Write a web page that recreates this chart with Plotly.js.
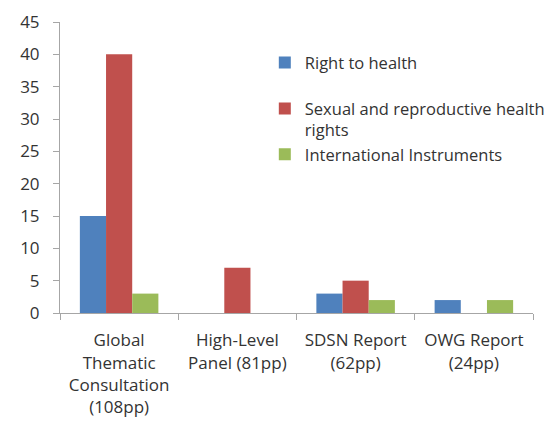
<!DOCTYPE html>
<html><head><meta charset="utf-8">
<script src="https://cdn.plot.ly/plotly-3.0.1.min.js"></script>
<style>html,body{margin:0;padding:0;background:#fff}</style>
</head><body><div id="chart" style="width:551px;height:423px"></div>
<script>
const categories = ["Global<br>Thematic<br>Consultation<br>(108pp)", "High-Level<br>Panel (81pp)", "SDSN Report<br>(62pp)", "OWG Report<br>(24pp)"];
const rightToHealth = [15, 0, 3, 2];
const sexualReproductive = [40, 7, 5, 0];
const internationalInstruments = [3, 0, 2, 2];
const seriesNames = ["Right to health<br>&nbsp;", "Sexual and reproductive health<br>rights", "International Instruments"];
const colors = ["#4F81BD", "#C0504D", "#9BBB59"];
const yTicks = [0, 5, 10, 15, 20, 25, 30, 35, 40, 45];

const series = [rightToHealth, sexualReproductive, internationalInstruments];
const traces = series.map((v, i) => ({
  type: "bar", x: categories, y: v, name: seriesNames[i],
  marker: {color: colors[i]}, hoverinfo: "none"
}));
const font = {family: "'Open Sans', sans-serif", size: 17, color: "#333333"};
const legendFont = {family: "'Open Sans', sans-serif", size: 16.5, color: "#333333"};
Plotly.newPlot("chart", traces, {
  width: 551, height: 423,
  margin: {l: 60, r: 1, t: 22, b: 109.5},
  paper_bgcolor: "#fff", plot_bgcolor: "#fff",
  font: font,
  barmode: "group", bargap: 0.336, bargroupgap: 0,
  showlegend: true,
  legend: {x: 0.433, y: 0.92, xanchor: "left", yanchor: "top", valign: "top",
    font: legendFont, bgcolor: "rgba(0,0,0,0)", tracegroupgap: 0, itemwidth: 30},
  xaxis: {showgrid: false, showline: true, linecolor: "#A6A6A6", linewidth: 1,
    ticks: "outside", tickson: "boundaries", ticklen: 6, tickcolor: "#A6A6A6",
    tickfont: font, zeroline: false, ticklabelstandoff: 12, tickangle: 0},
  yaxis: {range: [0, 45], tickvals: yTicks, showgrid: false, showline: true,
    linecolor: "#A6A6A6", linewidth: 1, ticks: "outside", ticklen: 6,
    tickcolor: "#A6A6A6", tickfont: font, zeroline: false, ticklabelstandoff: 10}
}, {displayModeBar: false, staticPlot: true});
</script></body></html>
